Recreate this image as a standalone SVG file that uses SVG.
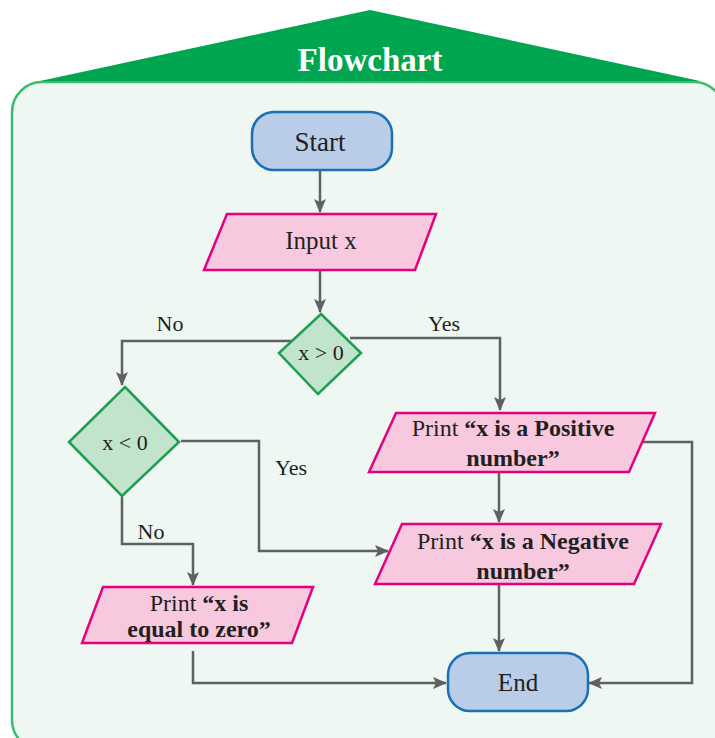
<svg xmlns="http://www.w3.org/2000/svg" width="715" height="738" viewBox="0 0 715 738">
<defs>
<style>
.t{font-family:"Liberation Serif","Times New Roman",serif;fill:#231f20;text-anchor:middle}
.term{fill:#b9cde9;stroke:#1a6fb5;stroke-width:2.5}
.io{fill:#f8c9de;stroke:#e6007e;stroke-width:2.5}
.dec{fill:#c3e4cc;stroke:#1e9e50;stroke-width:2.5}
.c{fill:none;stroke:#5f6062;stroke-width:2.5}
.a{marker-end:url(#ah)}
.b{font-weight:bold}
.p{font-size:24px}
.l{font-size:22px}
</style>
<marker id="ah" markerUnits="userSpaceOnUse" markerWidth="14" markerHeight="14" viewBox="0 0 14 14" refX="13" refY="7" orient="auto">
<path d="M0,1 L14,7 L0,13 L3,7 Z" fill="#5f6062"/>
</marker>
</defs>
<rect x="0" y="0" width="715" height="738" fill="#ffffff"/>
<rect x="12" y="82" width="712" height="668" rx="30" fill="#eef7f2" stroke="#3dbb6c" stroke-width="2.5"/>
<polygon points="370,10 700,81 40,81" fill="#00a54f"/>
<text x="370" y="71" class="t b" style="fill:#ffffff;font-size:33px">Flowchart</text>

<g id="connectors">
<path class="c a" d="M320,170 V212"/>
<path class="c a" d="M320,270 V312"/>
<path class="c a" d="M293,341 H122 V385"/>
<path class="c a" d="M350,338 H500 V410"/>
<path class="c a" d="M181,441 H259 V551 H388"/>
<path class="c a" d="M122,497 V544 H193 V585"/>
<path class="c a" d="M499,472 V522"/>
<path class="c a" d="M499,585 V651"/>
<path class="c a" d="M643,442 H692 V683 H589"/>
<path class="c a" d="M193,651 V683 H446"/>
</g>

<g id="start">
<rect class="term" x="252" y="112" width="140" height="58" rx="22"/>
<text class="t" x="320" y="151" style="font-size:27px">Start</text>
</g>
<g id="input">
<polygon class="io" points="227,214 436,214 415,270 204,270"/>
<text class="t" x="321" y="249" style="font-size:25px">Input x</text>
</g>
<g id="dec1">
<polygon class="dec" points="321,314 361,353 318,394 279,353"/>
<text class="t l" x="321" y="360">x &gt; 0</text>
</g>
<text class="t l" x="170" y="331">No</text>
<text class="t l" x="444" y="331">Yes</text>
<g id="dec2">
<polygon class="dec" points="125,387 179,442 122,496 69,442"/>
<text class="t l" x="125" y="450">x &lt; 0</text>
</g>
<text class="t l" x="291" y="475">Yes</text>
<text class="t l" x="151" y="539">No</text>
<g id="positive">
<polygon class="io" points="396,413 655,413 629,472 369,472"/>
<text class="t p" x="513" y="436">Print <tspan class="b">“x is a Positive</tspan></text>
<text class="t b p" x="513" y="466">number”</text>
</g>
<g id="negative">
<polygon class="io" points="402,524 661,524 634,584 375,584"/>
<text class="t p" x="523" y="549">Print <tspan class="b">“x is a Negative</tspan></text>
<text class="t b p" x="523" y="579">number”</text>
</g>
<g id="zero">
<polygon class="io" points="103,587 313,587 292,643 82,643"/>
<text class="t p" x="199" y="611">Print <tspan class="b">“x is</tspan></text>
<text class="t b p" x="199" y="637">equal to zero”</text>
</g>
<g id="end">
<rect class="term" x="448" y="653" width="140" height="58" rx="22"/>
<text class="t" x="518" y="691" style="font-size:25px">End</text>
</g>
</svg>
